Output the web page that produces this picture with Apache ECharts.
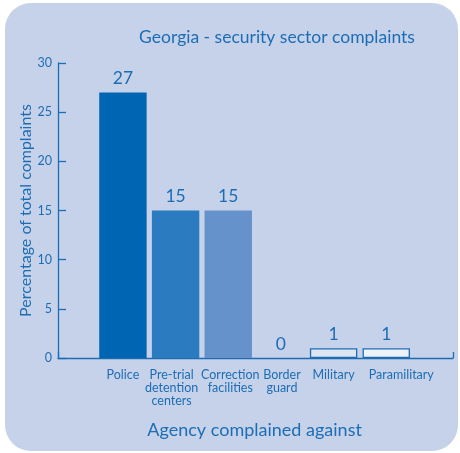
<!DOCTYPE html>
<html><head><meta charset="utf-8">
<script src="https://cdn.jsdelivr.net/npm/echarts@6/dist/echarts.min.js"></script>
<style>html,body{margin:0;padding:0;background:#fff}#c{width:460px;height:453px}</style>
</head><body><div id="c"></div>
<script>
const categories = ['Police', 'Pre-trial\ndetention\ncenters', 'Correction\nfacilities', 'Border\nguard', 'Military', 'Paramilitary'];
const values = [27, 15, 15, 0, 1, 1];
const barColors = ['#0066b3', '#2a7bc0', '#6692cb', '#1a5a9a', '#dde4f2', '#eef2fa'];
const yTicks = [0, 5, 10, 15, 20, 25, 30];

const blue = '#1d6db4';
const font = 'Lato';
const labelPad = [[0, 0, 0, 0], [0, 8, 0, 0], [0, 0, 0, 4], [0, 0, 0, 2], [0, 0, 0, 0], [0, 0, 0, 30]];
const chart = echarts.init(document.getElementById('c'), null, {renderer: 'canvas'});
chart.setOption({
  animation: false,
  textStyle: {fontFamily: font},
  graphic: [{
    type: 'rect', z: -10, silent: true,
    shape: {x: 5, y: 3, width: 453, height: 448, r: 26},
    style: {fill: '#c6d2ea'}
  }],
  title: {
    text: 'Georgia - security sector complaints',
    left: 272, top: 23, textAlign: 'center',
    textStyle: {color: blue, fontSize: 17.5, fontWeight: 'normal', fontFamily: font}
  },
  grid: [
    {left: 96.6, width: 316, top: 63, bottom: 95, containLabel: false},
    {left: 58, right: 7, top: 63, bottom: 95, containLabel: false}
  ],
  xAxis: [{
    gridIndex: 0, type: 'category',
    data: categories.map((c, i) => ({value: c, textStyle: {padding: labelPad[i]}})),
    axisLine: {show: false}, axisTick: {show: false},
    axisLabel: {color: blue, fontSize: 12.5, lineHeight: 13, margin: 10, interval: 0, verticalAlign: 'top'},
    name: 'Agency complained against', nameLocation: 'middle', nameGap: 63,
    nameMoveOverlap: false,
    nameTextStyle: {color: blue, fontSize: 18, fontFamily: font}
  }, {
    gridIndex: 1, type: 'value', min: 0, max: 1, interval: 1,
    axisLine: {show: true, lineStyle: {color: blue, width: 1.3}},
    axisTick: {show: true, inside: true, length: 6, lineStyle: {color: blue, width: 1.3}},
    axisLabel: {show: false}, splitLine: {show: false}
  }],
  yAxis: [{
    gridIndex: 0, type: 'value', min: 0, max: 30, interval: 5, offset: 38.6,
    axisLine: {show: true, lineStyle: {color: blue, width: 1.3}},
    axisTick: {show: true, inside: true, length: 8, lineStyle: {color: blue, width: 1.3}},
    axisLabel: {color: blue, fontSize: 12.5, margin: 6,
      formatter: v => yTicks.includes(v) ? String(v) : ''},
    splitLine: {show: false},
    name: 'Percentage of total complaints', nameLocation: 'middle', nameGap: 24,
    nameMoveOverlap: false,
    nameTextStyle: {color: blue, fontSize: 16, fontFamily: font}
  }, {
    gridIndex: 1, type: 'value', min: 0, max: 1, show: false
  }],
  series: [{
    type: 'bar', xAxisIndex: 0, yAxisIndex: 0,
    data: values.map((v, i) => ({
      value: v,
      itemStyle: {color: barColors[i], borderColor: i >= 4 ? blue : barColors[i], borderWidth: i >= 4 ? 1.3 : 0}
    })),
    barCategoryGap: '10%',
    label: {show: true, position: 'top', distance: 5, color: blue, fontSize: 17.5, fontFamily: font}
  }]
});
</script></body></html>
